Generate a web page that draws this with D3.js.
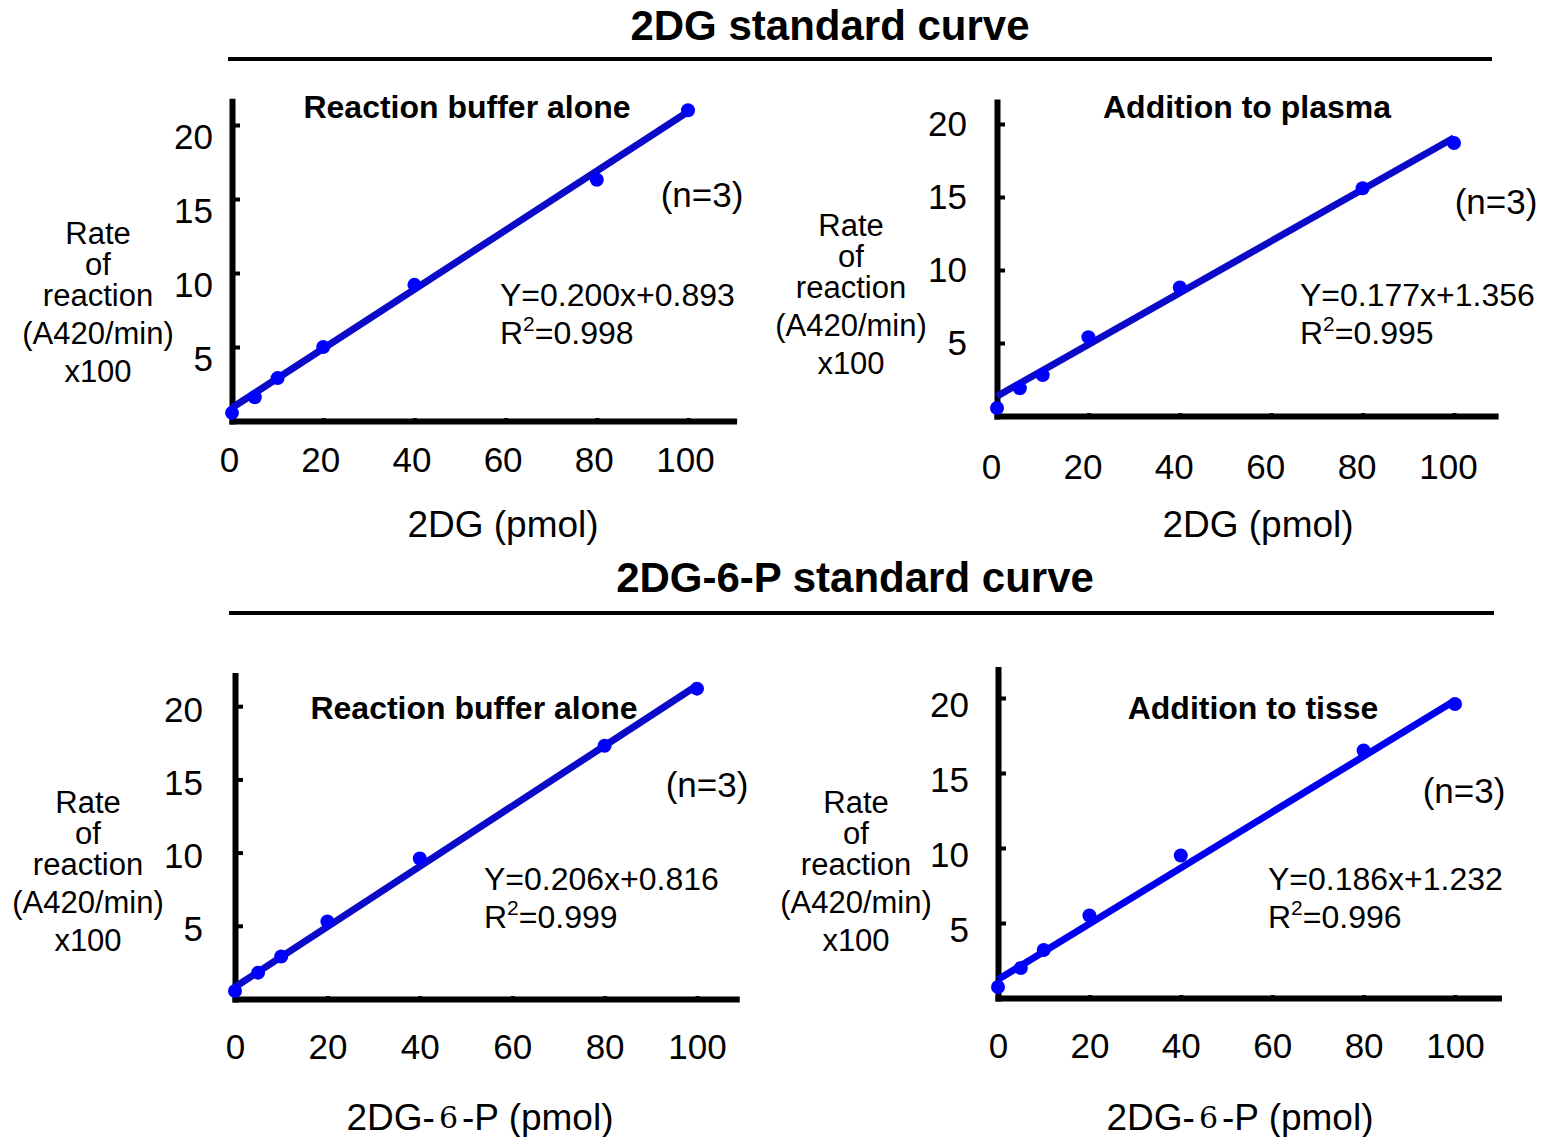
<!DOCTYPE html>
<html>
<head>
<meta charset="utf-8">
<script src="https://cdn.jsdelivr.net/npm/d3@7"></script>
<style>
  body { margin: 0; background: #fff; }
  svg text { font-family: "Liberation Sans", Arial, sans-serif; fill: #000; }
</style>
</head>
<body>
<div class="chart"></div>
<script>
// Data
var amounts = [0, 5, 10, 20, 40, 80, 100];
var buffer2DG = [0.55, 1.6, 2.9, 5.0, 9.2, 16.3, 21.0];
var plasma2DG = [0.55, 1.9, 2.8, 5.4, 8.8, 15.6, 18.7];
var buffer2DG6P = [0.55, 1.8, 2.9, 5.3, 9.6, 17.3, 21.2];
var tissue2DG6P = [0.73, 2.0, 3.2, 5.5, 9.5, 16.5, 19.6];

var slopes = [0.200, 0.177, 0.206, 0.186];
var intercepts = [0.893, 1.356, 0.816, 1.232];
var rSquared = ["0.998", "0.995", "0.999", "0.996"];

var xTicks = [0, 20, 40, 60, 80, 100];
var yTicks = [5, 10, 15, 20];

var panelTitles = ["Reaction buffer alone", "Addition to plasma", "Reaction buffer alone", "Addition to tisse"];
var seriesList = [buffer2DG, plasma2DG, buffer2DG6P, tissue2DG6P];

var svgWidth = 1541;
var svgHeight = 1137;

var svg = d3.select(".chart")
  .append("svg")
  .attr("width", svgWidth)
  .attr("height", svgHeight);

// panel layout: origin in px, px per unit, axis ends (in data units), label nudges
var panels = [
  { x0: 232, y0: 421, kx: 4.56, ky: 14.8, xMax: 110, yMax: 21.6, yPad: 19, yDy: 12, xDy: 39, xDx: -3,
    title: [467, 107], n: [702, 194], eq: [500, 295], yTitle: [98, 233], xTitle: [503, 524], xLabel: "2DG" },
  { x0: 997, y0: 416, kx: 4.57, ky: 14.6, xMax: 109, yMax: 21.5, yPad: 30, yDy: 0, xDy: 51, xDx: -6,
    title: [1247, 107], n: [1496, 201], eq: [1300, 295], yTitle: [851, 225], xTitle: [1258, 524], xLabel: "2DG" },
  { x0: 235, y0: 999, kx: 4.62, ky: 14.64, xMax: 108.5, yMax: 22.1, yPad: 32, yDy: 3, xDy: 48, xDx: 0,
    title: [474, 708], n: [707, 784], eq: [484, 879], yTitle: [88, 802], xTitle: [480, 1117], xLabel: "2DG6P" },
  { x0: 998, y0: 998, kx: 4.57, ky: 15.0, xMax: 109.5, yMax: 21.9, yPad: 29, yDy: 7, xDy: 48, xDx: 0,
    title: [1253, 708], n: [1464, 790], eq: [1268, 879], yTitle: [856, 802], xTitle: [1240, 1117], xLabel: "2DG6P" }
];

var lineColors = ["#0a0ac8", "#0a0ac8", "#0a0ac8", "#0000ee"];
var pointColor = "#0000ff";

// section headings with rules
function heading(text, cy, ruleY, x1, x2, cx) {
  svg.append("text")
    .attr("x", cx)
    .attr("y", cy)
    .attr("text-anchor", "middle")
    .attr("dominant-baseline", "central")
    .style("font-size", "42px")
    .style("font-weight", "bold")
    .text(text);
  svg.append("line")
    .attr("x1", x1).attr("x2", x2)
    .attr("y1", ruleY).attr("y2", ruleY)
    .attr("stroke", "#000")
    .attr("stroke-width", 4);
}
heading("2DG standard curve", 25, 59, 228, 1492, 830);
heading("2DG-6-P standard curve", 577, 613, 229, 1494, 855);

panels.forEach(function(p, i) {
  var xScale = d3.scaleLinear()
    .domain([0, p.xMax])
    .range([p.x0, p.x0 + p.xMax * p.kx]);
  var yScale = d3.scaleLinear()
    .domain([0, p.yMax])
    .range([p.y0, p.y0 - p.yMax * p.ky]);

  var g = svg.append("g");

  // y axis
  var leftAxis = d3.axisLeft(yScale)
    .tickValues(yTicks)
    .tickSize(-8)
    .tickSizeOuter(0)
    .tickPadding(p.yPad);
  var yAxis = g.append("g")
    .attr("transform", `translate(${p.x0}, 0)`)
    .call(leftAxis);
  yAxis.select(".domain").attr("stroke-width", 6).attr("stroke-linecap", "square");
  yAxis.selectAll(".tick line").attr("stroke-width", 4);
  yAxis.selectAll(".tick text")
    .attr("dy", (0.34 + p.yDy / 35) + "em")
    .style("font-size", "35px")
    .style("font-family", "'Liberation Sans', Arial, sans-serif");

  // x axis
  var bottomAxis = d3.axisBottom(xScale)
    .tickValues(xTicks)
    .tickSize(-3)
    .tickSizeOuter(0);
  var xAxis = g.append("g")
    .attr("transform", `translate(0, ${p.y0})`)
    .call(bottomAxis);
  xAxis.select(".domain").attr("stroke-width", 6).attr("stroke-linecap", "square");
  xAxis.selectAll(".tick line").attr("stroke-width", 4);
  xAxis.selectAll(".tick text")
    .attr("x", p.xDx)
    .attr("y", p.xDy)
    .attr("dy", "0.35em")
    .style("font-size", "35px")
    .style("font-family", "'Liberation Sans', Arial, sans-serif");

  // regression line
  g.append("line")
    .attr("x1", xScale(0))
    .attr("y1", yScale(intercepts[i]))
    .attr("x2", xScale(100))
    .attr("y2", yScale(slopes[i] * 100 + intercepts[i]))
    .attr("stroke", lineColors[i])
    .attr("stroke-width", 7);

  // points
  g.selectAll("circle.pt")
    .data(amounts)
    .enter()
    .append("circle")
    .attr("class", "pt")
    .attr("cx", d => xScale(d))
    .attr("cy", (d, j) => yScale(seriesList[i][j]))
    .attr("r", 7)
    .attr("fill", pointColor);

  // panel title
  g.append("text")
    .attr("x", p.title[0]).attr("y", p.title[1])
    .attr("text-anchor", "middle")
    .attr("dominant-baseline", "central")
    .style("font-size", "32px")
    .style("font-weight", "bold")
    .text(panelTitles[i]);

  // (n=3)
  g.append("text")
    .attr("x", p.n[0]).attr("y", p.n[1])
    .attr("text-anchor", "middle")
    .attr("dominant-baseline", "central")
    .style("font-size", "35px")
    .text("(n=3)");

  // equation
  g.append("text")
    .attr("x", p.eq[0]).attr("y", p.eq[1])
    .attr("dominant-baseline", "central")
    .style("font-size", "32px")
    .text("Y=" + slopes[i].toFixed(3) + "x+" + intercepts[i].toFixed(3));
  var r2 = g.append("text")
    .attr("x", p.eq[0]).attr("y", p.eq[1] + 38)
    .attr("dominant-baseline", "central")
    .style("font-size", "32px");
  r2.append("tspan").text("R");
  r2.append("tspan").attr("dy", -10).style("font-size", "21px").text("2");
  r2.append("tspan").attr("dy", 10).text("=" + rSquared[i]);

  // y axis title
  var yLines = ["Rate", "of", "reaction", "(A420/min)", "x100"];
  var yOffsets = [0, 31, 62, 100, 138];
  yLines.forEach(function(t, k) {
    g.append("text")
      .attr("x", p.yTitle[0]).attr("y", p.yTitle[1] + yOffsets[k])
      .attr("text-anchor", "middle")
      .attr("dominant-baseline", "central")
      .style("font-size", "31px")
      .text(t);
  });

  // x axis title
  var xt = g.append("text")
    .attr("x", p.xTitle[0]).attr("y", p.xTitle[1])
    .attr("text-anchor", "middle")
    .attr("dominant-baseline", "central")
    .style("font-size", "37px");
  if (p.xLabel === "2DG") {
    xt.text("2DG (pmol)");
  } else {
    xt.append("tspan").text("2DG-");
    xt.append("tspan")
      .attr("dx", 4)
      .style("font-family", "'DejaVu Serif', serif")
      .style("font-size", "30px")
      .style("font-weight", "200")
      .text("6");
    xt.append("tspan").attr("dx", 4).text("-P (pmol)");
  }
});
</script>
</body>
</html>
